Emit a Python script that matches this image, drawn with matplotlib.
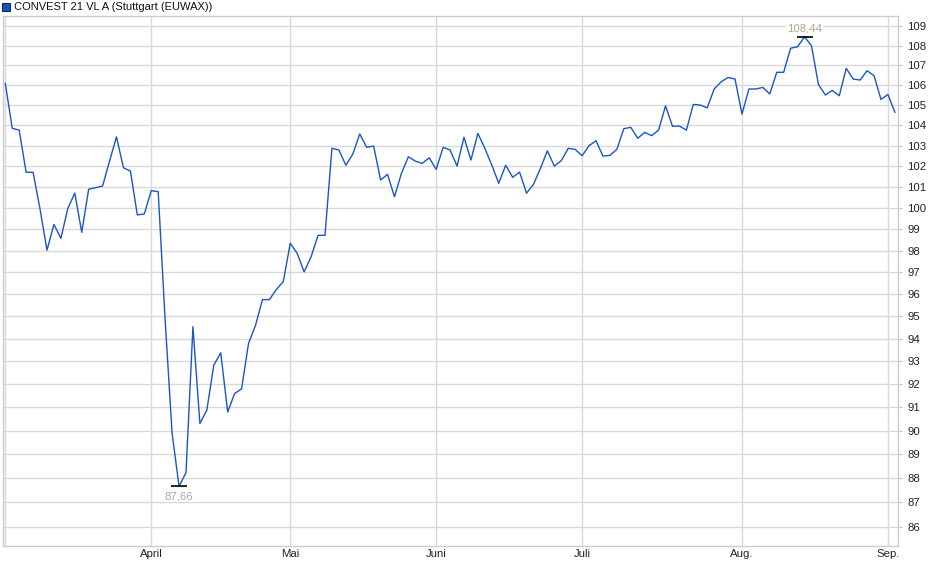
import numpy as np
import matplotlib
matplotlib.use("Agg")
import matplotlib.pyplot as plt
from matplotlib.patches import Rectangle
from matplotlib.ticker import FixedLocator, NullLocator, FixedFormatter

plt.rcParams['font.family'] = ['Liberation Sans', 'DejaVu Sans']

# Titel / Name
TITLE = "CONVEST 21 VL A (Stuttgart (EUWAX))"

# Schlusskurse (Handelstage, März bis Anfang September)
kurse = [
    106.08, 103.85, 103.76, 101.71, 101.71, 99.95, 98.03, 99.23, 98.58, 99.99,
    100.71, 98.86, 100.90, 100.97, 101.05, 102.25, 103.43, 101.93, 101.77, 99.68,
    99.72, 100.83, 100.78, 94.84, 89.89, 87.66, 88.23, 94.54, 90.31, 90.88,
    92.84, 93.38, 90.80, 91.60, 91.80, 93.80, 94.60, 95.76, 95.76, 96.22,
    96.58, 98.35, 97.88, 97.03, 97.72, 98.72, 98.72, 102.87, 102.79, 102.05,
    102.59, 103.57, 102.92, 102.98, 101.34, 101.61, 100.54, 101.66, 102.46, 102.25,
    102.14, 102.41, 101.85, 102.92, 102.79, 102.01, 103.41, 102.30, 103.60, 102.87,
    102.06, 101.18, 102.05, 101.47, 101.72, 100.71, 101.13, 101.90, 102.75, 102.01,
    102.27, 102.87, 102.82, 102.51, 103.00, 103.24, 102.49, 102.53, 102.82, 103.83,
    103.90, 103.36, 103.65, 103.49, 103.76, 104.96, 103.95, 103.96, 103.76, 105.03,
    105.00, 104.86, 105.80, 106.16, 106.38, 106.30, 104.55, 105.80, 105.80, 105.88,
    105.55, 106.64, 106.64, 107.86, 107.94, 108.44, 107.99, 106.03, 105.50, 105.73,
    105.46, 106.84, 106.30, 106.25, 106.72, 106.47, 105.28, 105.53, 104.64,
]

# erster Handelstag je Monat (Index in kurse)
monat_namen = ["April", "Mai", "Juni", "Juli", "Aug.", "Sep."]
monat_start = [21, 41, 62, 83, 106, 127]

y_ticks = list(range(86, 110))

LINE_COLOR = "#1a56c4"
GRID_COLOR = "#d9d9d9"

x = np.arange(len(kurse))
y = np.array(kurse)

fig = plt.figure(figsize=(9.40, 5.79), dpi=100)
ax = fig.add_axes([3 / 940, 33.5 / 579, 895 / 940, 529.5 / 579])

ax.set_yscale('log')
ax.set_ylim(85.24, 109.52)
ax.set_xlim(-0.33, 128.45)

# Gitter
for t in y_ticks:
    ax.axhline(t, color=GRID_COLOR, lw=1.0, zorder=1)
for m in [0] + monat_start:
    ax.axvline(m, color=GRID_COLOR, lw=1.0, zorder=1)

ax.plot(x, y, color=LINE_COLOR, lw=1.0, zorder=3)

# Hoch / Tief markieren
i_max = int(np.argmax(y))
i_min = int(np.argmin(y))
ax.plot([i_max], [y[i_max]], marker='_', color='black', ms=11, mew=1.2, zorder=4)
ax.plot([i_min], [y[i_min]], marker='_', color='black', ms=11, mew=1.2, zorder=4)
box = dict(boxstyle='square,pad=0.1', fc='white', ec='none')
ax.annotate(f"{y[i_max]:.2f}".replace('.', ','), (i_max, y[i_max]),
            xytext=(0, 2.5), textcoords='offset points', ha='center', va='bottom',
            fontsize=8.2, color='#b5a48a', bbox=box, zorder=5)
ax.annotate(f"{y[i_min]:.2f}".replace('.', ','), (i_min, y[i_min]),
            xytext=(0, -3.5), textcoords='offset points', ha='center', va='top',
            fontsize=8.2, color='#a3a8b3', bbox=box, zorder=5)

# Achsen
ax.yaxis.tick_right()
ax.yaxis.set_major_locator(FixedLocator(y_ticks))
ax.yaxis.set_major_formatter(FixedFormatter([str(t) for t in y_ticks]))
ax.yaxis.set_minor_locator(NullLocator())
ax.tick_params(axis='y', which='major', length=3, width=0.8, color='#c8c8c8',
               labelsize=8.2, labelcolor='#222222', pad=3.5)

ax.set_xticks(monat_start)
ax.set_xticklabels(monat_namen)
ax.tick_params(axis='x', length=0, labelsize=8.2, labelcolor='#222222', pad=2.5)

for s in ax.spines.values():
    s.set_color('#cccccc')
    s.set_linewidth(1.0)

# Legende oben links
fig.patches.append(Rectangle((2 / 940, 1 - 11 / 579), 8 / 940, 8 / 579,
                             transform=fig.transFigure, fc='#1b50b0', ec='#0d2a66', lw=0.8))
fig.text(14 / 940, 1 - 7 / 579, TITLE, fontsize=8.0, color='#111111', va='center', ha='left')

fig.savefig("out.png", dpi=100)
